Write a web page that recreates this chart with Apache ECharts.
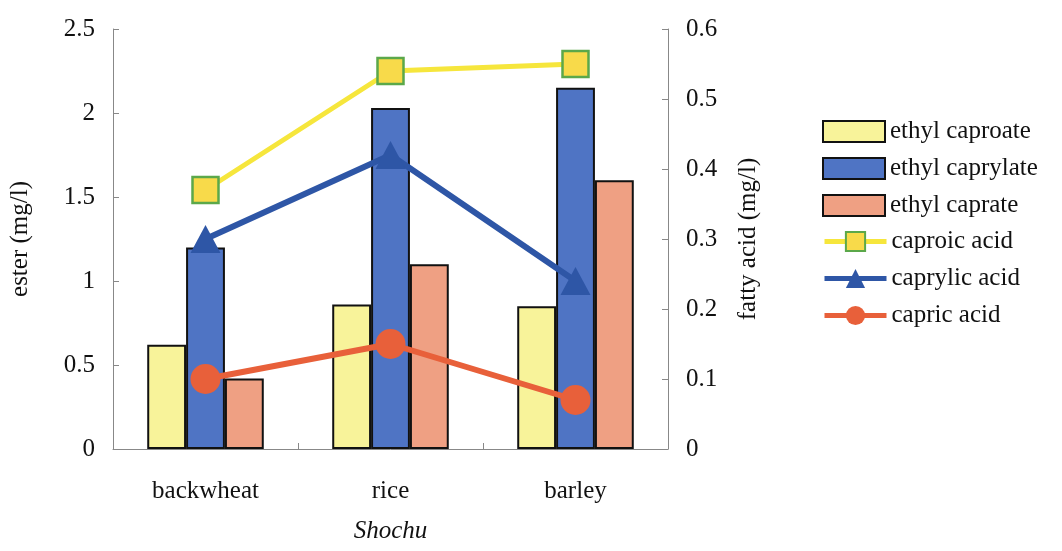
<!DOCTYPE html>
<html><head><meta charset="utf-8">
<script src="https://cdn.jsdelivr.net/npm/echarts@6/dist/echarts.min.js"></script>
<style>html,body{margin:0;padding:0;background:#fff}#c{width:1062px;height:551px}</style>
</head><body><div id="c"></div>
<script>
const categories = ['backwheat', 'rice', 'barley'];
const ethylCaproate = [0.62, 0.86, 0.85];
const ethylCaprylate = [1.20, 2.03, 2.15];
const ethylCaprate = [0.42, 1.10, 1.60];
const caproicAcid = [0.37, 0.54, 0.55];
const caprylicAcid = [0.30, 0.42, 0.24];
const capricAcid = [0.10, 0.15, 0.07];
const leftTicks = [0, 2.5, 0.5];
const rightTicks = [0, 0.6, 0.1];

const font = 'Liberation Serif';
const fs = 25;
const chart = echarts.init(document.getElementById('c'));
const barStyle = c => ({ color: c, borderColor: '#111', borderWidth: 2 });
const axisCommon = {
  axisLine: { show: true, lineStyle: { color: '#888', width: 1 } },
  axisTick: { show: true, inside: true, length: 6, lineStyle: { color: '#888' } },
  splitLine: { show: false },
  nameLocation: 'middle',
  nameTextStyle: { fontFamily: font, fontSize: fs, color: '#111' },
  axisLabel: { fontFamily: font, fontSize: fs, color: '#111', margin: 18 }
};
const lineSeries = [
  { name: 'caproic acid', data: caproicAcid, symbol: 'rect', symbolSize: 26,
    lineStyle: { color: '#F6E63C', width: 5 }, itemStyle: { color: '#F8DA4A', borderColor: '#5BA84A', borderWidth: 2.5 } },
  { name: 'caprylic acid', data: caprylicAcid, symbol: 'triangle', symbolSize: [30, 28],
    lineStyle: { color: '#2E56A6', width: 6 }, itemStyle: { color: '#2E56A6' } },
  { name: 'capric acid', data: capricAcid, symbol: 'circle', symbolSize: 30,
    lineStyle: { color: '#E8603A', width: 6 }, itemStyle: { color: '#E8603A' } }
];
chart.setOption({
  animation: false,
  backgroundColor: '#fff',
  grid: { left: 113, right: 394, top: 29, bottom: 102 },
  legend: [
    {
      orient: 'vertical', left: 817, top: 114, itemWidth: 62, itemHeight: 21, itemGap: 12,
      icon: 'rect',
      textStyle: { fontFamily: font, fontSize: fs, color: '#111' },
      data: ['ethyl caproate', 'ethyl caprylate', 'ethyl caprate']
    },
    {
      orient: 'vertical', left: 817, top: 224, itemWidth: 62, itemHeight: 24, itemGap: 12,
      textStyle: { fontFamily: font, fontSize: fs, color: '#111' },
      data: lineSeries.map(s => ({ name: s.name, lineStyle: { width: 5 } }))
    }
  ],
  xAxis: {
    type: 'category', data: categories,
    name: 'Shochu', nameLocation: 'middle', nameGap: 70,
    nameTextStyle: { fontFamily: font, fontSize: fs, fontStyle: 'italic', color: '#111' },
    axisLine: { lineStyle: { color: '#888' } },
    axisTick: { show: true, inside: true, length: 6, lineStyle: { color: '#888' } },
    axisLabel: { fontFamily: font, fontSize: fs, color: '#111', margin: 30 }
  },
  yAxis: [
    Object.assign({}, axisCommon, {
      type: 'value', min: leftTicks[0], max: leftTicks[1], interval: leftTicks[2],
      name: 'ester (mg/l)', nameGap: 80, position: 'left'
    }),
    Object.assign({}, axisCommon, {
      type: 'value', min: rightTicks[0], max: rightTicks[1], interval: rightTicks[2],
      name: 'fatty acid (mg/l)', nameGap: 68, position: 'right'
    })
  ],
  series: [
    { name: 'ethyl caproate', type: 'bar', data: ethylCaproate, barGap: '0%', barCategoryGap: '37%', itemStyle: barStyle('#F8F39A') },
    { name: 'ethyl caprylate', type: 'bar', data: ethylCaprylate, itemStyle: barStyle('#4F74C4') },
    { name: 'ethyl caprate', type: 'bar', data: ethylCaprate, itemStyle: barStyle('#EFA083') }
  ].concat(lineSeries.map(s => Object.assign({ type: 'line', yAxisIndex: 1 }, s)))
});
</script></body></html>
